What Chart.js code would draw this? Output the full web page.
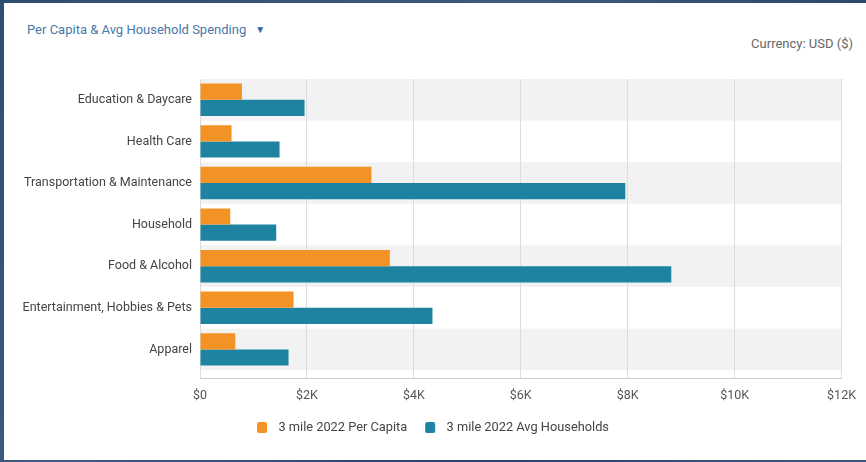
<!DOCTYPE html>
<html>
<head>
<meta charset="utf-8">
<script src="https://cdn.jsdelivr.net/npm/chart.js@4.4.0/dist/chart.umd.min.js"></script>
<style>
  html, body { margin: 0; padding: 0; width: 866px; height: 462px; overflow: hidden; }
  body { background: linear-gradient(135deg, #2f4d72 0%, #3d5b80 40%, #27456a 70%, #3a587c 100%); position: relative; font-family: Roboto, "Liberation Sans", Arial, sans-serif; }
  #panel { position: absolute; left: 4px; top: 3px; right: 0; bottom: 2px; background: #ffffff; }
  #title { position: absolute; left: 27px; top: 22px; font-size: 13px; color: #4a78a8; white-space: nowrap; }
  #title .caret { font-size: 10px; margin-left: 9px; color: #2f6aa3; position: relative; top: -1px; }
  #currency { position: absolute; right: 13px; top: 36px; font-size: 13px; color: #666666; white-space: nowrap; }
  #wrap { position: absolute; left: 0; top: 0; width: 866px; height: 462px; }
</style>
</head>
<body>
<div id="panel"></div>
<div id="title">Per Capita &amp; Avg Household Spending<span class="caret">&#9660;</span></div>
<div id="currency">Currency: USD ($)</div>
<div id="wrap"><canvas id="c"></canvas></div>
<script>
const categories = [
  "Education & Daycare",
  "Health Care",
  "Transportation & Maintenance",
  "Household",
  "Food & Alcohol",
  "Entertainment, Hobbies & Pets",
  "Apparel"
];
const perCapita = [785, 590, 3207, 566, 3551, 1750, 660];
const avgHouseholds = [1955, 1488, 7955, 1426, 8815, 4348, 1656];
const seriesNames = ["3 mile 2022 Per Capita", "3 mile 2022 Avg Households"];
const xTicks = [0, 2000, 4000, 6000, 8000, 10000, 12000];
const xTickLabels = ["$0", "$2K", "$4K", "$6K", "$8K", "$10K", "$12K"];
const seriesColors = ['#F39325', '#1D83A1'];

const FONT = "Roboto, 'Liberation Sans', Arial, sans-serif";

// legend swatch: 10x11 rounded box with a transparent lead-in
function makeSwatch(color) {
  const cv = document.createElement('canvas');
  cv.width = 25; cv.height = 11;
  const g = cv.getContext('2d');
  g.fillStyle = color;
  g.beginPath();
  if (g.roundRect) g.roundRect(10, 0, 10, 11, 2); else g.rect(10, 0, 10, 11);
  g.fill();
  return cv;
}
const swatches = seriesColors.map(makeSwatch);

const bandsPlugin = {
  id: 'bands',
  beforeDraw(chart) {
    const { ctx, chartArea } = chart;
    const y = chart.scales.y;
    const n = categories.length;
    const step = (chartArea.bottom - chartArea.top) / n;
    ctx.save();
    ctx.fillStyle = '#f2f2f2';
    for (let i = 0; i < n; i += 2) {
      const c = y.getPixelForValue(i);
      ctx.fillRect(chartArea.left, c - step / 2, chartArea.right - chartArea.left, step);
    }
    ctx.restore();
  },
  afterDraw(chart) {
    const { ctx, chartArea } = chart;
    ctx.save();
    ctx.strokeStyle = '#cccccc';
    ctx.lineWidth = 1;
    const yy = Math.round(chartArea.bottom + 8) + 0.5;
    ctx.beginPath();
    ctx.moveTo(chartArea.left, yy);
    ctx.lineTo(chartArea.right + 0.5, yy);
    ctx.stroke();
    ctx.restore();
  }
};

new Chart(document.getElementById('c'), {
  type: 'bar',
  data: {
    labels: categories,
    datasets: [
      { label: seriesNames[0], data: perCapita, backgroundColor: seriesColors[0], borderWidth: 0, pointStyle: swatches[0] },
      { label: seriesNames[1], data: avgHouseholds, backgroundColor: seriesColors[1], borderWidth: 0, pointStyle: swatches[1] }
    ]
  },
  options: {
    indexAxis: 'y',
    responsive: true,
    maintainAspectRatio: false,
    animation: false,
    datasets: { bar: { categoryPercentage: 0.78, barPercentage: 1.0 } },
    layout: { padding: { left: 0, right: 10, top: 79, bottom: 18 } },
    scales: {
      x: {
        min: 0, max: 12000,
        afterBuildTicks(scale) { scale.ticks = xTicks.map(v => ({ value: v })); },
        ticks: {
          callback(v) { const i = xTicks.indexOf(v); return i >= 0 ? xTickLabels[i] : ''; },
          color: '#555555',
          font: { family: FONT, size: 12.5 },
          padding: 10,
          maxRotation: 0
        },
        grid: { color: '#dcdcdc', tickLength: 8, drawTicks: true, tickColor: '#dcdcdc' },
        border: { display: false }
      },
      y: {
        afterFit(scale) { scale.width = 200; },
        ticks: { color: '#444444', font: { family: FONT, size: 12.5 }, padding: 8 },
        grid: { display: false, drawTicks: false },
        border: { display: false }
      },
      yRight: {
        type: 'linear',
        position: 'right',
        display: true,
        afterFit(scale) { scale.width = 6; },
        ticks: { display: false },
        grid: { display: false, drawTicks: false },
        border: { display: false }
      }
    },
    plugins: {
      legend: {
        position: 'bottom',
        labels: {
          usePointStyle: true,
          pointStyleWidth: 25,
          boxHeight: 11,
          color: '#444444',
          font: { family: FONT, size: 12.8 },
          padding: 8
        }
      },
      tooltip: { enabled: false }
    }
  },
  plugins: [bandsPlugin]
});
</script>
</body>
</html>
